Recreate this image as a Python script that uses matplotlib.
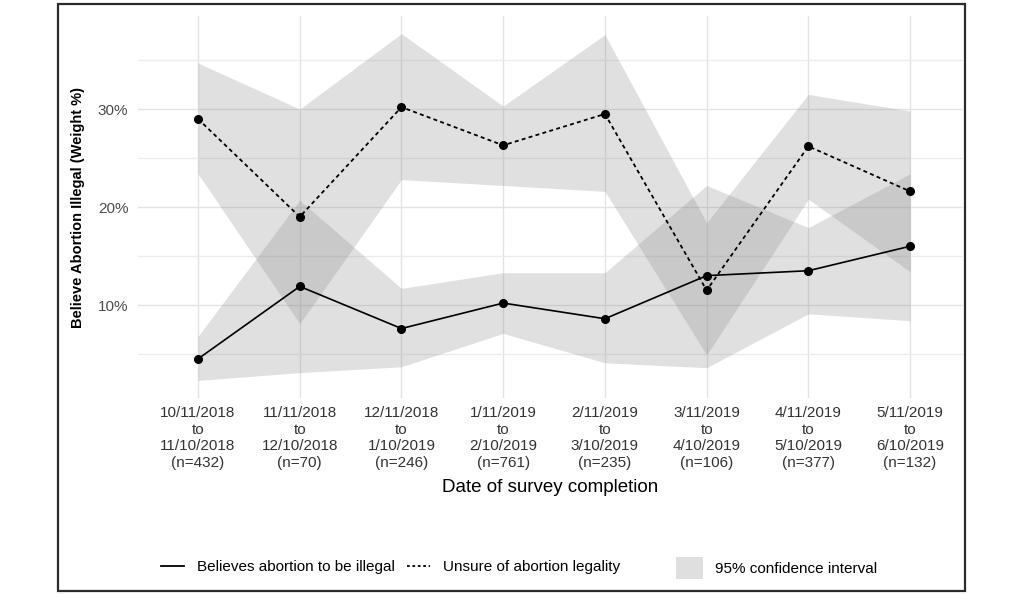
import numpy as np
import matplotlib
matplotlib.use("Agg")
import matplotlib.pyplot as plt
from matplotlib.lines import Line2D
from matplotlib.patches import Patch, Rectangle

plt.rcParams['font.family'] = ['Liberation Sans', 'DejaVu Sans']

# ---- data ----
periods = ["10/11/2018\nto\n11/10/2018\n(n=432)",
           "11/11/2018\nto\n12/10/2018\n(n=70)",
           "12/11/2018\nto\n1/10/2019\n(n=246)",
           "1/11/2019\nto\n2/10/2019\n(n=761)",
           "2/11/2019\nto\n3/10/2019\n(n=235)",
           "3/11/2019\nto\n4/10/2019\n(n=106)",
           "4/11/2019\nto\n5/10/2019\n(n=377)",
           "5/11/2019\nto\n6/10/2019\n(n=132)"]
illegal = [4.5, 11.9, 7.6, 10.2, 8.6, 13.0, 13.5, 16.0]
illegal_lo = [2.3, 3.1, 3.7, 7.1, 4.1, 3.6, 9.1, 8.4]
illegal_hi = [6.8, 20.7, 11.7, 13.3, 13.3, 22.2, 17.9, 23.4]
unsure = [29.0, 19.0, 30.2, 26.3, 29.5, 11.5, 26.2, 21.6]
unsure_lo = [23.4, 8.1, 22.8, 22.2, 21.6, 4.9, 20.8, 13.4]
unsure_hi = [34.7, 30.0, 37.7, 30.3, 37.6, 18.4, 31.5, 29.8]
yticks = [10, 20, 30]
ytick_labels = ["10%", "20%", "30%"]
minor_yticks = [5, 15, 25, 35]

x = np.arange(1, len(periods) + 1)

fig = plt.figure(figsize=(10.24, 5.94), dpi=100)
W, H = 1024, 594
ax = fig.add_axes([138 / W, 1 - 398 / H, (963 - 138) / W, (398 - 16) / H])

band_color = '#808080'
band_alpha = 0.24
ax.fill_between(x, illegal_lo, illegal_hi, color=band_color, alpha=band_alpha, lw=0, zorder=2)
ax.fill_between(x, unsure_lo, unsure_hi, color=band_color, alpha=band_alpha, lw=0, zorder=2)

ax.plot(x, illegal, color='black', lw=1.2, zorder=4)
ax.plot(x, illegal, 'o', color='black', ms=5.5, zorder=5)
ax.plot(x, unsure, color='black', lw=1.3, ls=(0, (2.2, 1.8)), zorder=4)
ax.plot(x, unsure, 'o', color='black', ms=5.5, zorder=5)

ax.set_xlim(0.41, 8.52)
ax.set_ylim(0.51, 39.5)
ax.set_xticks(x)
ax.set_xticklabels(periods, fontsize=11, color='#333333', linespacing=1.22)
ax.set_yticks(yticks)
ax.set_yticklabels(ytick_labels, fontsize=11, color='#4d4d4d')
ax.set_yticks(minor_yticks, minor=True)
ax.tick_params(axis='both', which='both', length=0)
ax.tick_params(axis='y', pad=7)
ax.tick_params(axis='x', pad=6)

for s in ax.spines.values():
    s.set_visible(False)
ax.grid(True, which='major', color='#e3e3e3', lw=1.0, zorder=0)
ax.grid(True, which='minor', axis='y', color='#ececec', lw=1.0, zorder=0)
ax.set_axisbelow(True)

ax.set_xlabel("Date of survey completion", fontsize=13.5, color='black')
ax.xaxis.set_label_coords(0.5, -0.213)
ax.set_ylabel("Believe Abortion Illegal (Weight %)", fontsize=10.5, fontweight='bold', color='black')
ax.yaxis.set_label_coords(-0.064, 0.5)

# legends
h1 = [Line2D([0], [0], color='black', lw=1.3),
      Line2D([0], [0], color='black', lw=1.3, ls=(0, (1.5, 1.5)))]
leg1 = fig.legend(h1, ["Believes abortion to be illegal", "Unsure of abortion legality"],
                  ncol=2, frameon=False, fontsize=11, handlelength=1.5, handletextpad=0.85,
                  columnspacing=0.8, borderpad=0, borderaxespad=0,
                  loc='center left', bbox_to_anchor=(161 / W, 1 - 567 / H))
h2 = [Patch(facecolor='#dfdfdf', edgecolor='none')]
leg2 = fig.legend(h2, ["95% confidence interval"], frameon=False, fontsize=11,
                  handlelength=1.76, handleheight=1.83, handletextpad=0.8,
                  borderpad=0, borderaxespad=0,
                  loc='center left', bbox_to_anchor=(676 / W, 1 - 568 / H))

# outer frame
fig.patches.append(Rectangle((58 / W, 1 - 591 / H), (965 - 58) / W, (591 - 4) / H,
                             transform=fig.transFigure, fill=False, edgecolor='#2b2b2b', lw=1.6))

fig.savefig("out.png", dpi=100)
